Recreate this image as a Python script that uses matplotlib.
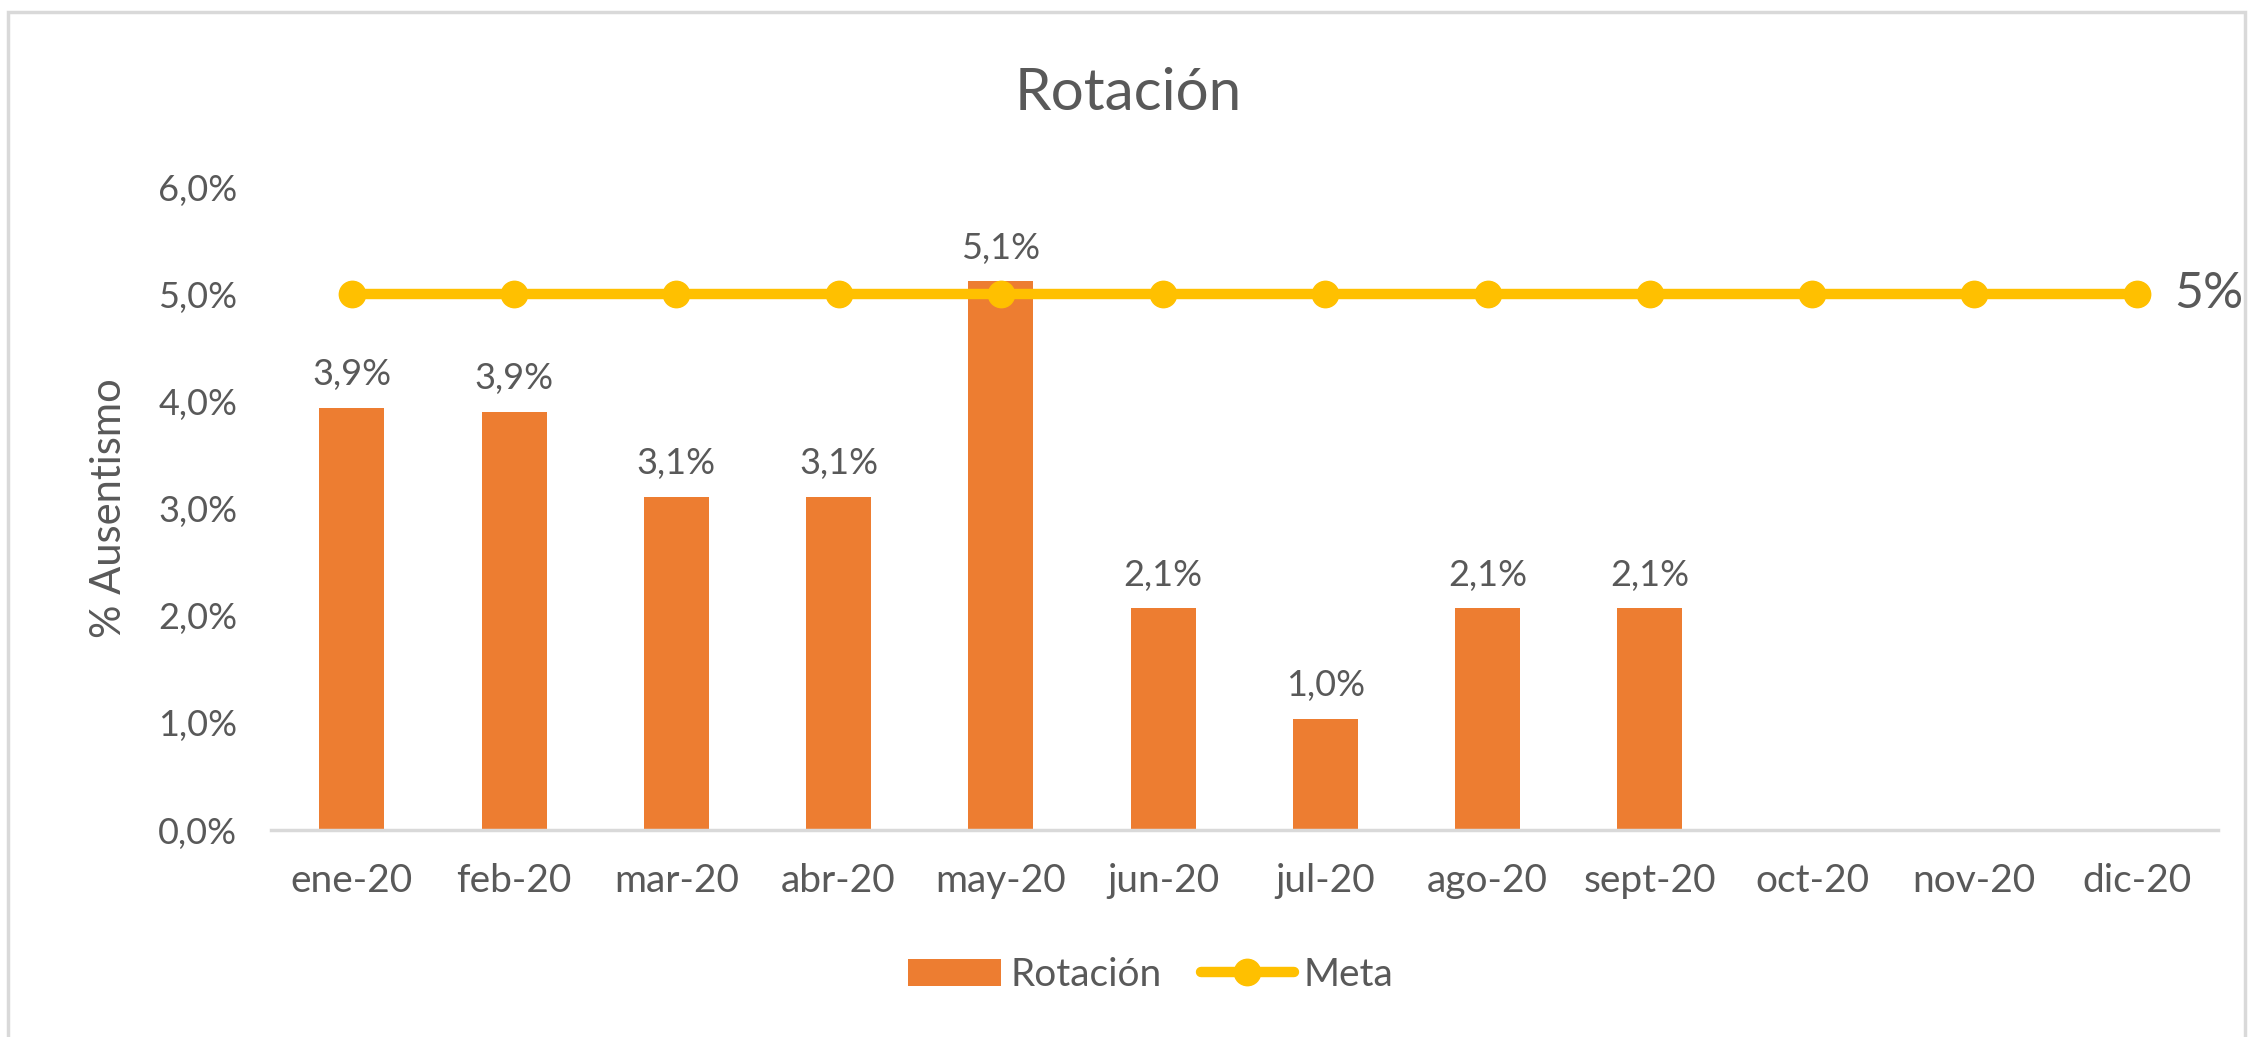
import matplotlib.pyplot as plt
from matplotlib.patches import Rectangle
import numpy as np

# Data
months = ["ene-20", "feb-20", "mar-20", "abr-20", "may-20", "jun-20",
          "jul-20", "ago-20", "sept-20", "oct-20", "nov-20", "dic-20"]
rotacion = [3.94, 3.90, 3.11, 3.11, 5.12, 2.07, 1.04, 2.07, 2.07]   # % values
meta = [5.0] * 12
yticks = [0, 1, 2, 3, 4, 5, 6]

bar_color = "#ED7D31"
line_color = "#FFC000"
text_color = "#595959"

plt.rcParams['font.family'] = ['Lato', 'DejaVu Sans']

fig = plt.figure(figsize=(22.56, 10.37), dpi=100)
ax = fig.add_axes([0.120, 0.1996, 0.863, 0.620])

# chart border
fig.patches.append(Rectangle((0.0035, -0.01), 0.9915, 0.998, transform=fig.transFigure,
                             fill=False, edgecolor="#D9D9D9", linewidth=2.5))

x = np.arange(len(months))
ax.bar(x[:len(rotacion)], rotacion, width=0.4, color=bar_color,
       label="Rotación", zorder=2)
ax.plot(x, meta, color=line_color, linewidth=7.5, marker="o", markersize=19,
        label="Meta", zorder=3, solid_capstyle="round")

# data labels
for xi, v in zip(x, rotacion):
    ax.annotate(f"{v:.1f}%".replace(".", ","), (xi, v), xytext=(0, 12),
                textcoords="offset points", ha="center", va="bottom",
                fontsize=26, color=text_color)
ax.annotate("5%", (x[-1], meta[-1]), xytext=(27, 0), textcoords="offset points",
            ha="left", va="center", fontsize=36, color=text_color)

ax.set_xlim(-0.5, len(months) - 0.5)
ax.set_ylim(0, 6)
ax.set_yticks(yticks)
ax.set_yticklabels([f"{t:.1f}%".replace(".", ",") for t in yticks])
ax.set_xticks(x)
ax.set_xticklabels(months)
ax.tick_params(axis="both", length=0, labelcolor=text_color)
ax.tick_params(axis="x", pad=24, labelsize=28)
ax.tick_params(axis="y", pad=24, labelsize=26)

for s in ["top", "right", "left"]:
    ax.spines[s].set_visible(False)
ax.spines["bottom"].set_color("#D9D9D9")
ax.spines["bottom"].set_linewidth(2.5)

ax.set_ylabel("% Ausentismo", fontsize=30, color=text_color, labelpad=22)
fig.suptitle("Rotación", fontsize=42, color=text_color, y=0.935)

handles, labels = ax.get_legend_handles_labels()
order = [labels.index("Rotación"), labels.index("Meta")]
fig.legend([handles[i] for i in order], [labels[i] for i in order],
           loc="center", bbox_to_anchor=(0.51, 0.06), ncol=2, frameon=False,
           fontsize=28, labelcolor=text_color, handlelength=2.4,
           handletextpad=0.25, columnspacing=1.0)

fig.savefig("out.png", dpi=100)
